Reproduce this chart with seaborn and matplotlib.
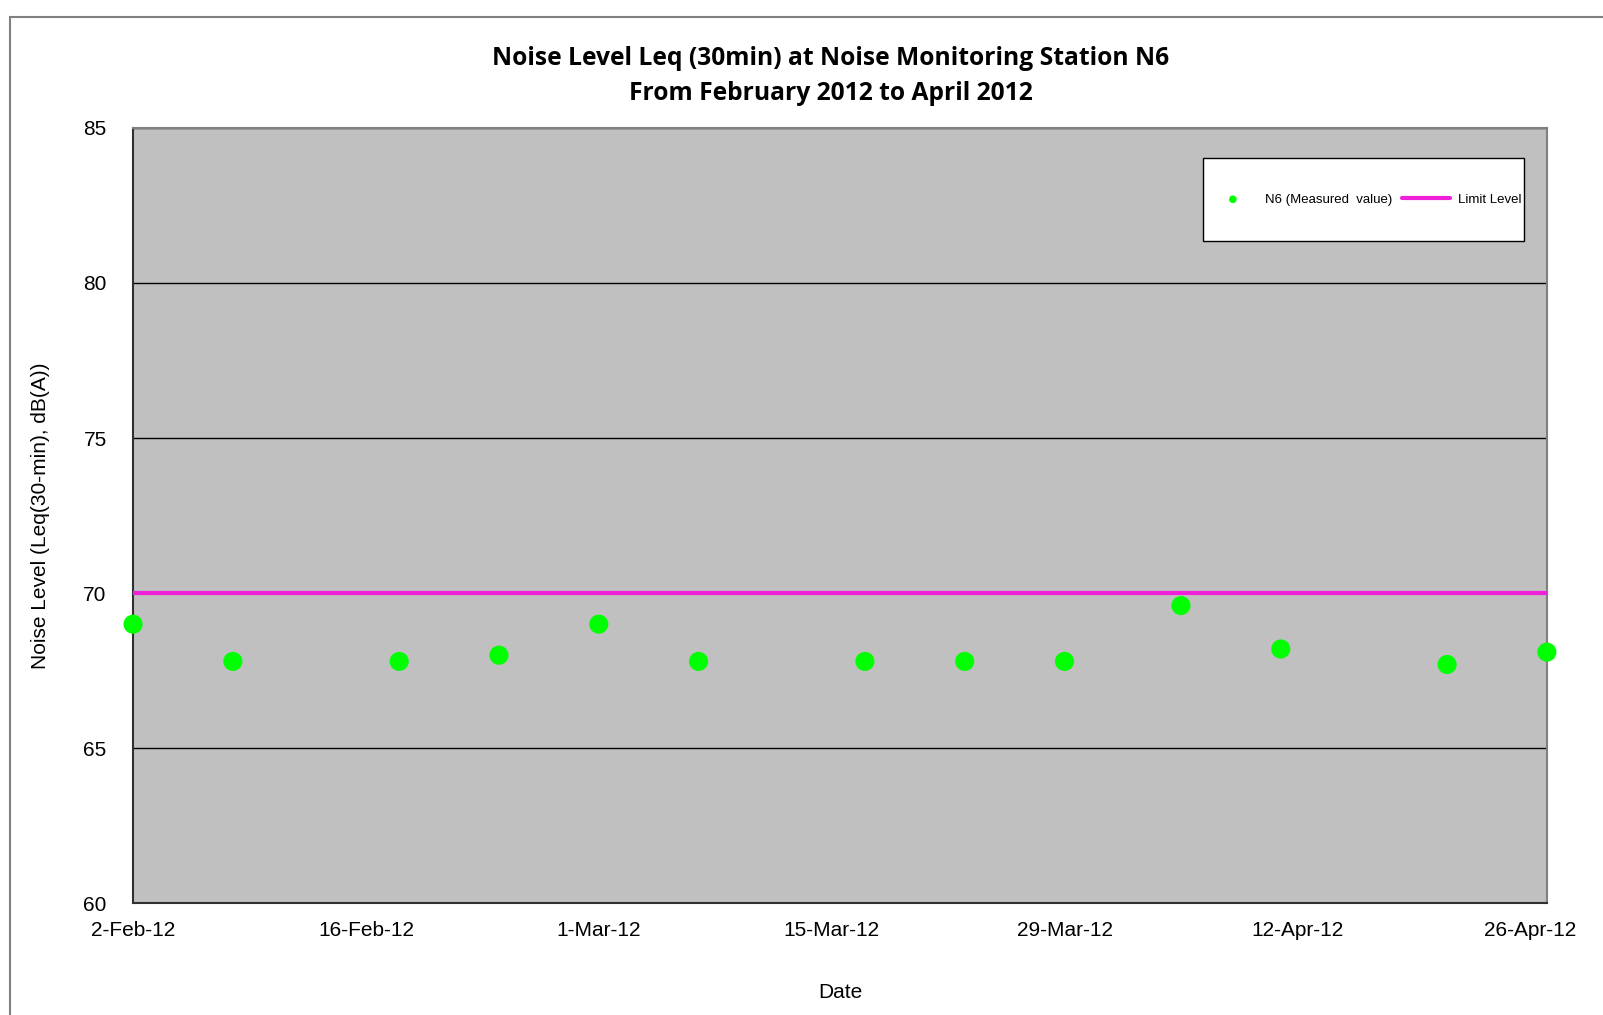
import pandas as pd
import matplotlib
matplotlib.use("Agg")
import matplotlib.pyplot as plt
import matplotlib.dates as mdates
from matplotlib.patches import Rectangle
import seaborn as sns

# Measured Leq(30min) at N6
dates = ["2012-02-02", "2012-02-08", "2012-02-18", "2012-02-24", "2012-03-01",
         "2012-03-07", "2012-03-17", "2012-03-23", "2012-03-29", "2012-04-05",
         "2012-04-11", "2012-04-21", "2012-04-27"]
levels = [69.0, 67.8, 67.8, 68.0, 69.0, 67.8, 67.8, 67.8, 67.8, 69.6, 68.2, 67.7, 68.1]
limit_level = 70
tick_dates = ["2012-02-02", "2012-02-16", "2012-03-01", "2012-03-15",
              "2012-03-29", "2012-04-12", "2012-04-26"]
y_ticks = [60, 65, 70, 75, 80, 85]

df = pd.DataFrame({"date": pd.to_datetime(dates), "level": levels})
limit_df = pd.DataFrame({"date": pd.to_datetime(["2012-02-02", "2012-04-27"]),
                         "level": [limit_level, limit_level]})

sns.set_style("white")
plt.rcParams["font.family"] = ["Liberation Sans", "DejaVu Sans"]
plt.rcParams["text.color"] = "black"
plt.rcParams["axes.labelcolor"] = "black"
plt.rcParams["xtick.labelcolor"] = "black"
plt.rcParams["ytick.labelcolor"] = "black"

fig = plt.figure(figsize=(16.03, 10.15), dpi=100)
ax = fig.add_axes([0.083, 0.110, 0.882, 0.764])
ax.set_facecolor("#C0C0C0")

# outer chart frame
fig.patches.append(Rectangle((10 / 1603, -0.05), 1.2, 1 - 17 / 1015 + 0.05,
                             transform=fig.transFigure, fill=False,
                             edgecolor="#808080", lw=1.5))

for y in y_ticks:
    ax.axhline(y, color="black", lw=1, zorder=1)

sns.lineplot(data=limit_df, x="date", y="level", ax=ax, color="#F020D8", lw=3,
             label="Limit Level", zorder=3)
sns.scatterplot(data=df, x="date", y="level", ax=ax, color="#00FF00", s=190,
                edgecolor="none", label="N6 (Measured  value)", zorder=4, clip_on=False)

ax.set_xlim(pd.Timestamp("2012-02-02"), pd.Timestamp("2012-04-27"))
ax.set_ylim(60, 85)
ax.set_yticks(y_ticks)
ax.set_xticks(pd.to_datetime(tick_dates))
ax.xaxis.set_major_formatter(plt.FuncFormatter(
    lambda v, p: (lambda d: f"{d.day}-{d:%b-%y}")(mdates.num2date(v))))
ax.tick_params(axis="y", direction="out", length=7, width=1, labelsize=15, pad=12, color="black")
ax.tick_params(axis="x", direction="in", length=6, width=1, labelsize=15, pad=13, color="#606060")

for side in ["left", "bottom"]:
    ax.spines[side].set_color("#303030")
    ax.spines[side].set_linewidth(1.5)
for side in ["top", "right"]:
    ax.spines[side].set_color("#808080")
    ax.spines[side].set_linewidth(1.5)

ax.set_xlabel("Date", fontsize=15, labelpad=31)
ax.set_ylabel("Noise Level (Leq(30-min), dB(A))", fontsize=15, labelpad=24)
title = ax.set_title("Noise Level Leq (30min) at Noise Monitoring Station N6\nFrom February 2012 to April 2012",
                     fontsize=17.7, fontweight="bold", family=["Open Sans", "DejaVu Sans"],
                     linespacing=1.55, pad=20)
title.set_x(0.4935)

# legend box (white, black edge) with the legend entries centred inside it
ax.add_patch(Rectangle((0.757, 0.854), 0.227, 0.107, transform=ax.transAxes,
                       facecolor="white", edgecolor="black", lw=1, zorder=5))
handles, labels = ax.get_legend_handles_labels()
leg = ax.legend(handles[::-1], labels[::-1], ncol=2, loc="center",
                bbox_to_anchor=(0.8715, 0.9075), fontsize=9.5, frameon=False,
                borderpad=0, handlelength=3.6, handletextpad=0.6,
                columnspacing=0.8, markerscale=0.4)
leg.set_zorder(6)
for t in leg.get_texts():
    t.set_color("black")

fig.savefig("out.png", dpi=100)
